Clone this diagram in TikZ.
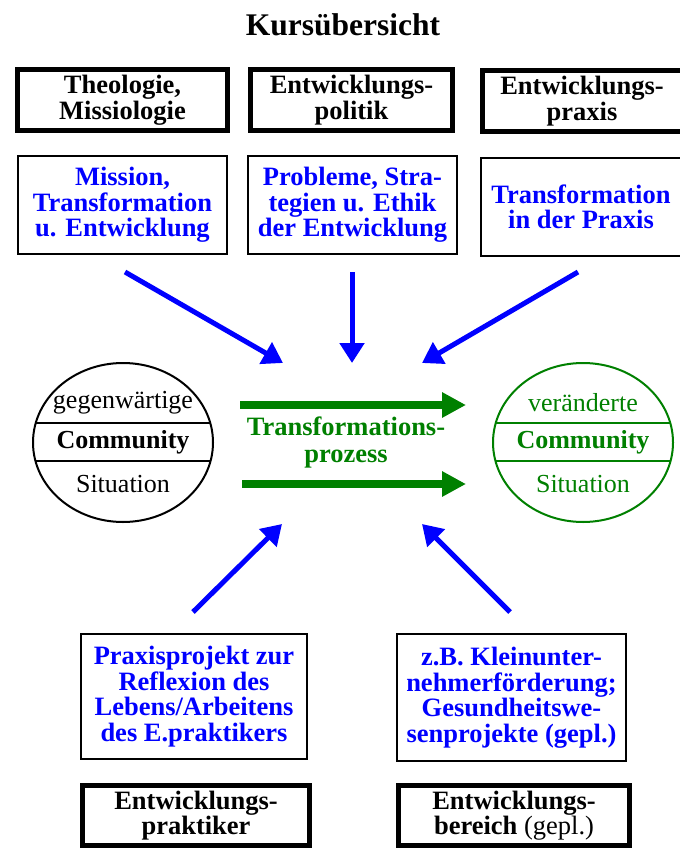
\documentclass[tikz,border=0pt]{standalone}
\usepackage{fontspec}
\setmainfont{Liberation Serif}
\usetikzlibrary{arrows.meta,shapes.geometric}
\definecolor{cblue}{RGB}{0,0,255}
\definecolor{cgreen}{RGB}{0,128,0}
\begin{document}
\begin{tikzpicture}[x=1pt,y=-1pt,
  txt/.style={font=\fontsize{26.5}{25.5}\selectfont\bfseries, align=center, inner sep=0pt},
  thickbox/.style={txt, draw, line width=5pt, minimum width=210pt, minimum height=61pt},
  bluebox/.style={txt, draw, line width=2pt, text=cblue, minimum width=209pt, minimum height=98pt},
  bluearrow/.style={draw=cblue, line width=5pt, -{Triangle[length=20pt,width=24pt]}},
  greenarrow/.style={draw=cgreen, line width=8pt, -{Triangle[length=24pt,width=24pt]}},
  comm/.style={draw, line width=2pt, ellipse, minimum width=180pt, minimum height=159pt, inner sep=0pt},
  ctext/.style={font=\fontsize{26}{26}\selectfont, inner sep=0pt}
]
\useasboundingbox (0,0) rectangle (679,850);
\fill[white] (0,0) rectangle (679,850);

\node[txt, font=\fontsize{31.5}{32}\selectfont\bfseries] (title) at (343,25) {Kursübersicht};

% top thick boxes
\node[thickbox] (t1) at (122.5,100) {Theologie,\\Missiologie};
\node[thickbox, minimum width=202pt] (t2) at (351.5,100) {Entwicklungs-\\politik};
\node[thickbox, minimum width=200pt] (t3) at (582,101) {Entwicklungs-\\praxis};

% blue boxes
\node[bluebox] (b1) at (122.5,205) {Mission,\\Transformation\\u. Entwicklung};
\node[bluebox] (b2) at (352.5,205) {Probleme, Stra-\\tegien u. Ethik\\der Entwicklung};
\node[bluebox, minimum width=201pt] (b3) at (581,207) {Transformation\\in der Praxis};

% arrow endpoints
\coordinate (a1s) at (125,272); \coordinate (a1e) at (283,363);
\coordinate (a2s) at (352,272); \coordinate (a2e) at (352,363);
\coordinate (a3s) at (578,272); \coordinate (a3e) at (422,363);
\coordinate (a4s) at (193,612); \coordinate (a4e) at (282,524);
\coordinate (a5s) at (510,612); \coordinate (a5e) at (422,524);
\draw[bluearrow] (a1s) -- (a1e);
\draw[bluearrow] (a2s) -- (a2e);
\draw[bluearrow] (a3s) -- (a3e);
\draw[bluearrow] (a4s) -- (a4e);
\draw[bluearrow] (a5s) -- (a5e);

% left ellipse
\node[comm] (L) at (123,442.5) {};
\begin{scope}
  \clip (123,442.5) ellipse [x radius=90pt, y radius=79.5pt];
  \draw[line width=2pt] (30,423) -- (220,423);
  \draw[line width=2pt] (30,461) -- (220,461);
\end{scope}
\node[ctext] (L1) at (123,403) {gegenwärtige};
\node[ctext, font=\fontsize{26}{26}\selectfont\bfseries] (L2) at (123,442) {Community};
\node[ctext] (L3) at (123,484) {Situation};

% right ellipse
\node[comm, draw=cgreen] (R) at (583,442.5) {};
\begin{scope}
  \clip (583,442.5) ellipse [x radius=90pt, y radius=79.5pt];
  \draw[cgreen, line width=2pt] (488,423) -- (678,423);
  \draw[cgreen, line width=2pt] (488,461) -- (678,461);
\end{scope}
\node[ctext, text=cgreen] (R1) at (583,403) {veränderte};
\node[ctext, text=cgreen, font=\fontsize{26}{26}\selectfont\bfseries] (R2) at (583,442) {Community};
\node[ctext, text=cgreen] (R3) at (583,484) {Situation};

% green arrows
\coordinate (g1s) at (240,405); \coordinate (g1e) at (466,405);
\coordinate (g2s) at (242,484); \coordinate (g2e) at (466,484);
\draw[greenarrow] (g1s) -- (g1e);
\draw[greenarrow] (g2s) -- (g2e);
\node[txt, text=cgreen, font=\fontsize{26.5}{27}\selectfont\bfseries] (tp) at (346,442) {Transformations-\\prozess};

% bottom blue boxes
\node[bluebox, minimum width=226pt, minimum height=125pt] (b4) at (194,696.5) {Praxisprojekt zur\\Reflexion des\\Lebens/Arbeitens\\des E.praktikers};
\node[bluebox, minimum width=229pt, minimum height=127pt] (b5) at (511.5,697.5) {z.B. Kleinunter-\\nehmerförderung;\\Gesundheitswe-\\senprojekte (gepl.)};

% bottom thick boxes
\node[thickbox, minimum width=227pt, minimum height=60pt] (t4) at (196,815.5) {Entwicklungs-\\praktiker};
\node[thickbox, minimum width=231pt, minimum height=60pt] (t5) at (514,815.5) {Entwicklungs-\\bereich \textmd{(gepl.)}};
\end{tikzpicture}
\end{document}
